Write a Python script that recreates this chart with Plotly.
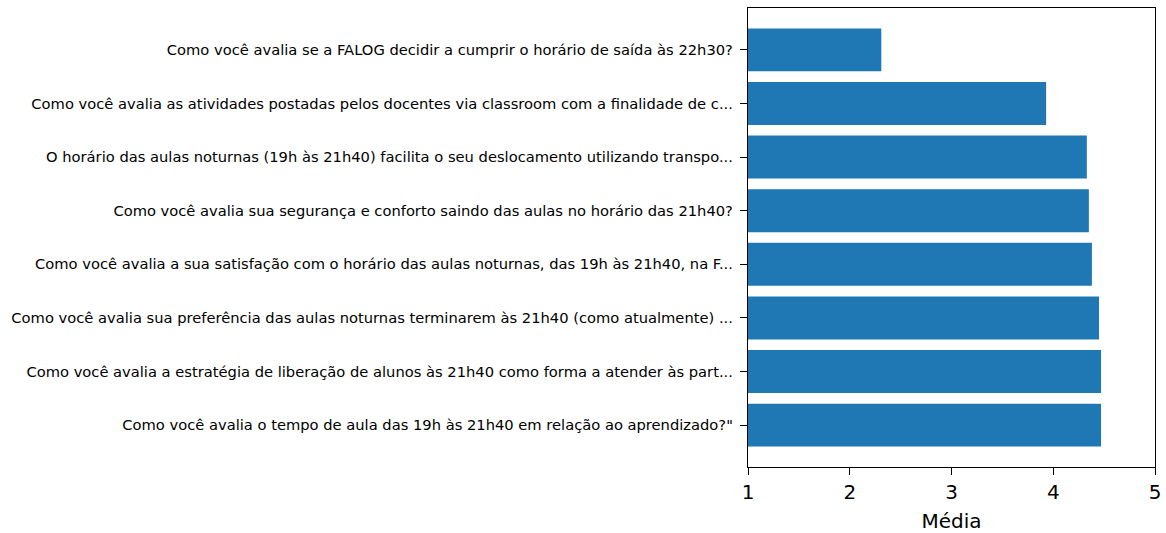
import plotly.graph_objects as go

# bottom-to-top order
questions = [
    'Como você avalia o tempo de aula das 19h às 21h40 em relação ao aprendizado?"',
    'Como você avalia a estratégia de liberação de alunos às 21h40 como forma a atender às part...',
    'Como você avalia sua preferência das aulas noturnas terminarem às 21h40 (como atualmente) ...',
    'Como você avalia a sua satisfação com o horário das aulas noturnas, das 19h às 21h40, na F...',
    'Como você avalia sua segurança e conforto saindo das aulas no horário das 21h40?',
    'O horário das aulas noturnas (19h às 21h40) facilita o seu deslocamento utilizando transpo...',
    'Como você avalia as atividades postadas pelos docentes via classroom com a finalidade de c...',
    'Como você avalia se a FALOG decidir a cumprir o horário de saída às 22h30?',
]
medias = [4.47, 4.47, 4.45, 4.38, 4.35, 4.33, 3.93, 2.31]
x_ticks = [1, 2, 3, 4, 5]

fig = go.Figure(go.Bar(
    x=medias, y=questions, orientation="h",
    marker=dict(color="#1f77b4", line=dict(width=0)),
    width=0.8,
))

fig.update_layout(
    width=1166, height=533,
    margin=dict(l=748, r=11, t=8, b=66, autoexpand=False),
    paper_bgcolor="white", plot_bgcolor="white",
    font=dict(family="DejaVu Sans", color="black"),
    showlegend=False,
)
fig.update_xaxes(
    range=[1, 5], tickvals=x_ticks, ticks="outside", ticklen=7, tickwidth=1.3,
    tickcolor="black", showline=True, linecolor="black", linewidth=1.3,
    mirror=True, showgrid=False, zeroline=False, automargin=False,
    tickfont=dict(size=20), title=dict(text="Média", font=dict(size=20), standoff=11),
)
fig.update_yaxes(
    type="category", range=[-0.78, 7.78], ticks="outside", ticklen=7, tickwidth=1.3,
    tickcolor="black", showline=True, linecolor="black", linewidth=1.3,
    mirror=True, showgrid=False, zeroline=False, automargin=False,
    tickfont=dict(size=14.7), ticklabelstandoff=4,
)

fig.write_html(
    "out.html",
    config={"displayModeBar": False},
    post_script="document.body.style.margin='0';document.body.style.overflow='hidden';",
)
